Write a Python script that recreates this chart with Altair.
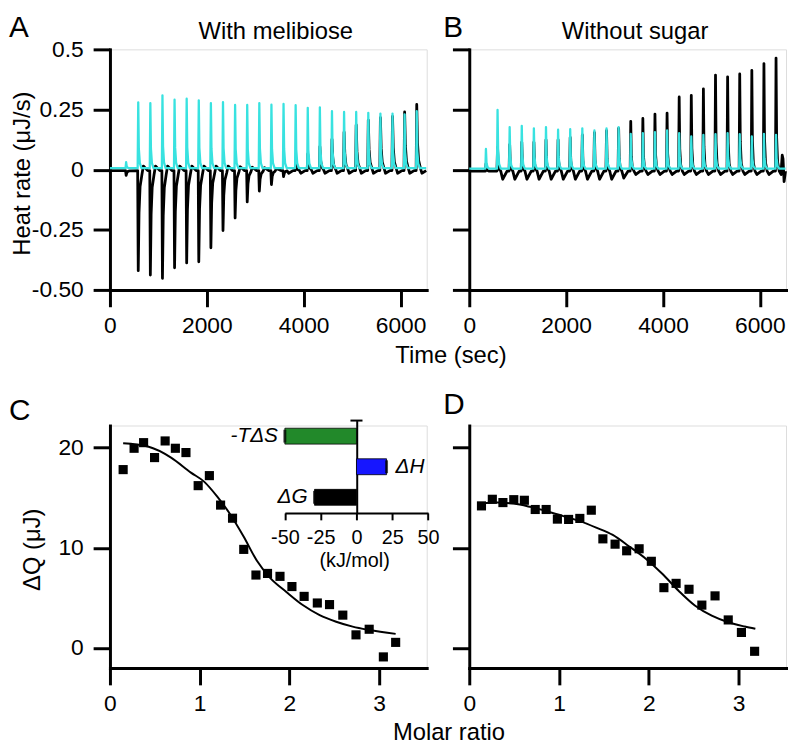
import altair as alt
import pandas as pd

FONT = "Liberation Sans"
CYAN = "#38e2e0"
GREEN = "#22892a"
BLUE = "#1616ff"

# ---------------- panels A / B : raw thermograms ----------------
INJ_TIMES = [580, 830, 1080, 1330, 1580, 1830, 2080, 2330, 2580, 2830, 3080, 3330,
             3580, 3830, 4080, 4330, 4580, 4830, 5080, 5330, 5580, 5830, 6080, 6330]

A_FIRST_T = 330
A_BLACK_FIRST = -0.02
A_CYAN_FIRST = 0.025
A_BLACK_BASE = -0.004
A_CYAN_BASE = 0.006
A_BLACK_PEAKS = [-0.416, -0.434, -0.448, -0.404, -0.384, -0.379, -0.321, -0.249,
                 -0.197, -0.130, -0.085, -0.058, -0.025, 0.03, 0.07, 0.10,
                 0.13, 0.16, 0.19, 0.21, 0.22, 0.225, 0.244, 0.275]
A_BLACK_AFTER = [0.015, 0.015, 0.015, 0.015, 0.015, 0.015, 0.015, 0.015,
                 0.012, 0.010, 0.008, 0.005, -0.015, -0.015, -0.015, -0.015,
                 -0.015, -0.015, -0.015, -0.015, -0.015, -0.015, -0.015, -0.015]
A_CYAN_PEAKS = [0.274, 0.271, 0.303, 0.285, 0.289, 0.282, 0.271, 0.275,
                0.263, 0.263, 0.271, 0.264, 0.267, 0.262, 0.251, 0.253,
                0.237, 0.234, 0.234, 0.230, 0.227, 0.227, 0.224, 0.237]
A_CYAN_AFTER = [0.006] * 24
A_END_T = 6530

B_FIRST_T = 340
B_BLACK_FIRST = 0.03
B_CYAN_FIRST = 0.082
B_BLACK_BASE = -0.006
B_CYAN_BASE = 0.004
B_BLACK_PEAKS = [0.10, 0.11, 0.12, 0.12, 0.13, 0.13, 0.14, 0.15,
                 0.16, 0.168, 0.178, 0.207, 0.219, 0.237, 0.241, 0.308,
                 0.315, 0.342, 0.399, 0.392, 0.404, 0.419, 0.447, 0.470]
B_BLACK_AFTER = [-0.04, -0.04, -0.04, -0.04, -0.04, -0.04, -0.04, -0.04,
                 -0.04, -0.04, -0.035, -0.02, -0.02, -0.02, -0.02, -0.02,
                 -0.02, -0.02, -0.02, -0.02, -0.02, -0.02, -0.02, -0.02]
B_CYAN_PEAKS = [0.244, 0.173, 0.178, 0.168, 0.173, 0.162, 0.164, 0.168,
                0.159, 0.168, 0.173, 0.145, 0.148, 0.152, 0.159, 0.148,
                0.134, 0.141, 0.144, 0.148, 0.144, 0.134, 0.145, 0.141]
B_CYAN_AFTER = [0.004] * 24
B_BLACK_TAIL_T = [6440, 6462, 6478, 6500]
B_BLACK_TAIL_V = [-0.004, 0.06, 0.045, -0.05]
B_END_T = 6530

# peak profiles: time offset (s) and fraction of the peak height
FAST_OFF = [-8, 4, 16, 36, 70]
FAST_FRAC = [0, 1, 0.3, 0.08, 0]
SLOW_OFF = [-8, 4, 20, 42, 80]
SLOW_FRAC = [0, 1, 0.42, 0.16, 0.04]
AFTER_OFF = 110
RETURN_OFF = 200

TIME_TICKS = [0, 2000, 4000, 6000]
HEAT_TICKS = [0.5, 0.25, 0, -0.25, -0.5]
HEAT_LABELS = ["0.5", "0.25", "0", "-0.25", "-0.50"]

# ---------------- panels C / D : integrated heats ----------------
C_X = [0.147, 0.269, 0.375, 0.497, 0.615, 0.729, 0.847, 0.983, 1.108, 1.233, 1.366, 1.491,
       1.627, 1.756, 1.895, 2.028, 2.164, 2.311, 2.447, 2.595, 2.742, 2.889, 3.047, 3.184]
C_Y = [17.8, 19.93, 20.49, 19.0, 20.66, 19.93, 19.5, 16.2, 17.2, 14.26, 12.95, 9.84,
       7.28, 7.44, 7.15, 6.13, 5.15, 4.49, 4.33, 3.28, 1.31, 1.87, -0.89, 0.56]
C_FIT_X = [0.147, 0.423, 0.681, 0.902, 1.049, 1.196, 1.343, 1.491, 1.638, 1.785,
           1.969, 2.153, 2.337, 2.521, 2.705, 2.889, 3.184]
C_FIT_Y = [20.43, 20.1, 19.0, 17.5, 16.6, 15.1, 13.3, 11.1, 8.7, 7.0,
           5.57, 4.26, 3.28, 2.62, 2.13, 1.80, 1.41]

D_X = [0.136, 0.257, 0.375, 0.496, 0.614, 0.735, 0.857, 0.982, 1.107, 1.232, 1.360, 1.489,
       1.625, 1.754, 1.893, 2.029, 2.169, 2.305, 2.449, 2.592, 2.739, 2.886, 3.033, 3.180]
D_Y = [14.18, 14.84, 14.51, 14.80, 14.74, 13.82, 13.82, 12.86, 12.83, 12.93, 13.75, 10.89,
       10.36, 9.70, 9.90, 8.65, 6.02, 6.45, 5.86, 4.28, 5.20, 2.80, 1.55, -0.33]
D_FIT_X = [0.136, 0.3125, 0.496, 0.680, 0.864, 1.048, 1.232, 1.415, 1.599, 1.783,
           1.967, 2.151, 2.335, 2.518, 2.702, 2.886, 3.070, 3.188]
D_FIT_Y = [14.41, 14.51, 14.41, 14.08, 13.65, 13.16, 12.66, 12.01, 11.28, 10.13,
           8.91, 7.40, 5.69, 4.21, 3.22, 2.57, 2.14, 1.91]

RATIO_TICKS = [0, 1, 2, 3]
Q_TICKS = [0, 10, 20]

# inset: thermodynamic parameters (kJ/mol)
TERMS = ["-TΔS", "ΔH", "ΔG"]
TERM_VALUES = [-50.0, 21.0, -29.3]
TERM_COLORS = [GREEN, BLUE, "#000000"]
KJ_TICKS = [-50, -25, 0, 25, 50]

W = 320
H_TOP = 243
H_BOT = 245


def build_trace(first_t, first_p, peaks, afters, base, offs, fracs, end_t,
                tail_t=None, tail_v=None):
    ts, vs = [0], [base]
    for o, f in zip(offs, fracs):
        ts.append(first_t + o)
        vs.append(base + f * first_p)
    for t, p, a in zip(INJ_TIMES, peaks, afters):
        for o, f in zip(offs, fracs):
            ts.append(t + o)
            vs.append(base + f * p)
        ts.append(t + AFTER_OFF)
        vs.append(a)
        ts.append(t + RETURN_OFF)
        vs.append(base)
    if tail_t:
        ts += tail_t
        vs += tail_v
    else:
        ts.append(end_t)
        vs.append(base)
    return pd.DataFrame({"t": ts, "v": vs})


def label_expr(vals, labels):
    expr = "''"
    for v, lab in zip(vals, labels):
        expr = f"abs(datum.value - ({v})) < 1e-9 ? '{lab}' : " + expr
    return expr


def axis(values, **kw):
    d = dict(values=values, domainColor="black", domainWidth=3, domainCap="square",
             tickColor="black", tickWidth=3, tickSize=17, labelFont=FONT,
             labelFontSize=23, labelColor="black", labelFlush=False, grid=False,
             titleFont=FONT, titleFontSize=24, titleFontWeight="normal",
             titleColor="black", labelOverlap=False)
    d.update(kw)
    return alt.Axis(**d)


def text_layer(txt, x, y, size, align="left", italic=False):
    return alt.Chart(pd.DataFrame({"s": [txt]})).mark_text(
        font=FONT, fontSize=size, align=align, baseline="alphabetic", color="black",
        fontStyle="italic" if italic else "normal"
    ).encode(text="s:N", x=alt.value(x), y=alt.value(y))


def trace_panel(black_df, cyan_df, y_labels, letter, letter_x, title):
    if y_labels:
        yax = axis(HEAT_TICKS, labelExpr=label_expr(HEAT_TICKS, HEAT_LABELS),
                   labelPadding=10, title="Heat rate (μJ/s)", titleX=-88,
                   titleY=125, titleAngle=-90, titleAlign="center",
                   titleBaseline="middle")
        xax = axis(TIME_TICKS, format="d", labelPadding=8, title="Time (sec)",
                   titleX=344, titleY=73, titleAlign="center",
                   titleBaseline="alphabetic")
    else:
        yax = axis(HEAT_TICKS, labels=False, title=None)
        xax = axis(TIME_TICKS, format="d", labelPadding=8, title=None)
    x = alt.X("t:Q", scale=alt.Scale(domain=[0, 6540], nice=False, zero=False), axis=xax)
    y = alt.Y("v:Q", scale=alt.Scale(domain=[-0.5, 0.5], nice=False, zero=False), axis=yax)
    black = alt.Chart(black_df).mark_line(color="black", strokeWidth=2.8,
                                          strokeJoin="round").encode(x=x, y=y)
    cyan = alt.Chart(cyan_df).mark_line(color=CYAN, strokeWidth=2.3,
                                        strokeJoin="round").encode(x=x, y=y)
    return alt.layer(
        black, cyan,
        text_layer(letter, letter_x, -12, 30),
        text_layer(title, 167.5, -10, 24, align="center"),
    ).properties(width=W, height=H_TOP)


def heat_panel(px, py, fx, fy, y_labels, letter, letter_x, letter_y, x_title):
    if y_labels:
        yax = axis(Q_TICKS, labelPadding=10, title="ΔQ (μJ)", titleX=-78, titleY=125,
                   titleAngle=-90, titleAlign="center", titleBaseline="middle")
    else:
        yax = axis(Q_TICKS, labels=False, title=None)
    if x_title:
        xax = axis(RATIO_TICKS, format="d", labelPadding=8, title="Molar ratio",
                   titleX=342, titleY=72, titleAlign="center", titleBaseline="alphabetic")
    else:
        xax = axis(RATIO_TICKS, format="d", labelPadding=8, title=None)
    x = alt.X("r:Q", scale=alt.Scale(domain=[0, 3.53], nice=False, zero=False), axis=xax)
    y = alt.Y("q:Q", scale=alt.Scale(domain=[-2, 22.2], nice=False, zero=False), axis=yax)
    pts = alt.Chart(pd.DataFrame({"r": px, "q": py})).mark_point(
        shape="square", filled=True, size=85, color="black", opacity=1).encode(x=x, y=y)
    fit = alt.Chart(pd.DataFrame({"r": fx, "q": fy})).mark_line(
        color="black", strokeWidth=2, interpolate="monotone").encode(x=x, y=y)
    return alt.layer(pts, fit, text_layer(letter, letter_x, letter_y, 30))


def inset_layer():
    df = pd.DataFrame({"term": TERMS, "val": TERM_VALUES})
    ix = alt.X("val:Q",
               scale=alt.Scale(domain=[-50, 50], range=[176.7, 321.4], nice=False, zero=False),
               axis=alt.Axis(orient="bottom", offset=-156.7, values=KJ_TICKS,
                             labelExpr="'' + datum.value", domainColor="black",
                             domainWidth=2, tickColor="black", tickWidth=2, tickSize=7,
                             labelFont=FONT, labelFontSize=20, labelColor="black",
                             labelPadding=8, labelFlush=False, labelOverlap=False,
                             grid=False, title="(kJ/mol)", titleFont=FONT,
                             titleFontSize=20, titleFontWeight="normal", titleColor="black",
                             titleX=246.7, titleY=48, titleAlign="center",
                             titleBaseline="middle"))
    iy = alt.Y("term:N",
               scale=alt.Scale(domain=TERMS, range=[-5, 88.3], paddingInner=0.48,
                               paddingOuter=0.25),
               axis=alt.Axis(orient="left", offset=-249.3, labels=False, ticks=False,
                             domainColor="black", domainWidth=2, grid=False, title=None))
    bars = alt.Chart(df).mark_bar(stroke="black", strokeWidth=0.8).encode(
        x=ix, y=iy,
        color=alt.Color("term:N", scale=alt.Scale(domain=TERMS, range=TERM_COLORS), legend=None))
    caps = alt.Chart(df).mark_tick(color="black", thickness=3, size=13).encode(x=ix, y=iy)
    left_lab = alt.Chart(df[df["val"] < 0]).mark_text(
        font=FONT, fontSize=21, fontStyle="italic", align="right", baseline="middle",
        dx=-7, color="black").encode(x=ix, y=iy, text="term:N")
    right_lab = alt.Chart(df[df["val"] > 0]).mark_text(
        font=FONT, fontSize=21, fontStyle="italic", align="left", baseline="middle",
        dx=9, color="black").encode(x=ix, y=iy, text="term:N")
    top_cap = alt.Chart(pd.DataFrame({"a": [0]})).mark_rule(color="black", strokeWidth=2).encode(
        x=alt.datum(-4.2), x2=alt.datum(4.2), y=alt.value(-5))
    return alt.layer(bars, caps, left_lab, right_lab, top_cap)


black_a = build_trace(A_FIRST_T, A_BLACK_FIRST, A_BLACK_PEAKS, A_BLACK_AFTER, A_BLACK_BASE,
                      SLOW_OFF, SLOW_FRAC, A_END_T)
cyan_a = build_trace(A_FIRST_T, A_CYAN_FIRST, A_CYAN_PEAKS, A_CYAN_AFTER, A_CYAN_BASE,
                     FAST_OFF, FAST_FRAC, A_END_T)
black_b = build_trace(B_FIRST_T, B_BLACK_FIRST, B_BLACK_PEAKS, B_BLACK_AFTER, B_BLACK_BASE,
                      FAST_OFF, FAST_FRAC, B_END_T, B_BLACK_TAIL_T, B_BLACK_TAIL_V)
cyan_b = build_trace(B_FIRST_T, B_CYAN_FIRST, B_CYAN_PEAKS, B_CYAN_AFTER, B_CYAN_BASE,
                     FAST_OFF, FAST_FRAC, B_END_T)

panel_a = trace_panel(black_a, cyan_a, True, "A", -102, "With melibiose")
panel_b = trace_panel(black_b, cyan_b, False, "B", -26.3, "Without sugar")

panel_c = alt.layer(
    heat_panel(C_X, C_Y, C_FIT_X, C_FIT_Y, True, "C", -102, -6, True),
    inset_layer(),
).resolve_scale(x="independent", y="independent").properties(width=W, height=H_BOT)

panel_d = heat_panel(D_X, D_Y, D_FIT_X, D_FIT_Y, False, "D", -26.3, -12, False).properties(
    width=W, height=H_BOT)

chart = alt.concat(
    panel_a, panel_b, panel_c, panel_d, columns=2,
    spacing={"row": 137, "column": 43}, bounds="flush"
).properties(
    padding={"left": 0, "top": 1, "right": 0, "bottom": 0}
).configure_view(stroke=None).configure(font=FONT)

chart.save("out.html", embed_options={"renderer": "svg", "actions": False})
